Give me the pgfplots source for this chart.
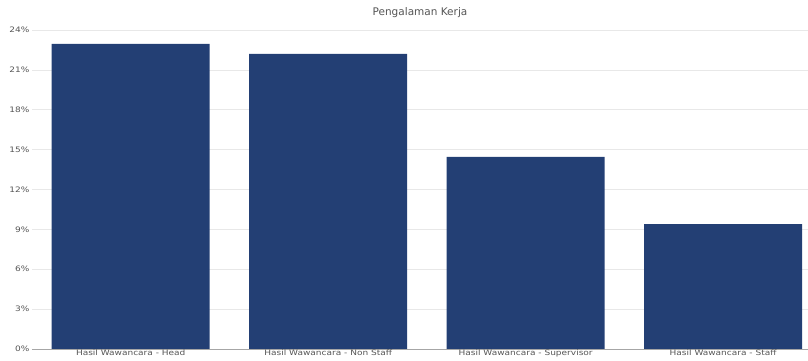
\documentclass[border=0pt]{standalone}
\usepackage{pgfplots}
\pgfplotsset{compat=1.18}
\usepackage{fontspec}
\setmainfont{DejaVu Sans}
\newfontfamily\tickfont[FakeStretch=1.2]{DejaVu Sans}
\definecolor{barblue}{HTML}{233F74}
\definecolor{txtgray}{HTML}{555555}
\definecolor{gridgray}{HTML}{E8E8E8}
\begin{document}
\begin{tikzpicture}[x=1pt,y=1pt]
\useasboundingbox (0,0) rectangle (808,361);
\begin{axis}[
  at={(32pt,12pt)}, anchor=south west,
  scale only axis,
  width=776pt, height=319pt,
  xmin=-0.5, xmax=3.43,
  ymin=0, ymax=24,
  ybar, bar width=158pt, bar shift=0pt,
  xtick={0,1,2,3},
  xticklabels={Hasil Wawancara - Head, Hasil Wawancara - Non Staff, Hasil Wawancara - Supervisor, Hasil Wawancara - Staff},
  ytick={0,3,6,9,12,15,18,21,24},
  yticklabel={\pgfmathprintnumber{\tick}\%},
  /pgf/number format/assume math mode=true,
  ticklabel style={font=\tickfont\fontsize{7.5}{9}\selectfont, text=txtgray},
  xticklabel style={yshift=3pt},
  yticklabel style={xshift=1pt},
  major tick length=0pt,
  ymajorgrids, grid style={gridgray, line width=0.5pt},
  axis x line*=bottom, axis y line*=left,
  y axis line style={draw=none},
  x axis line style={draw=gray!70, line width=0.6pt, -},
  title={Pengalaman Kerja},
  title style={font=\fontsize{10.5}{12}\selectfont, text=txtgray, yshift=3pt},
  clip=false,
]
\addplot[fill=barblue, draw=none] coordinates {(0,22.95) (1,22.2) (2,14.45) (3,9.4)};
\end{axis}
\end{tikzpicture}
\end{document}
